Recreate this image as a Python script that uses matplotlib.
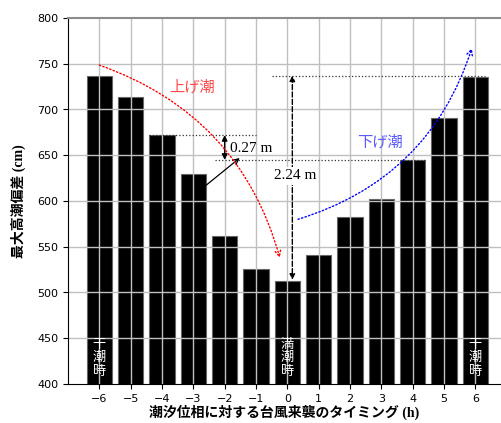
import matplotlib
matplotlib.use("Agg")
import matplotlib.pyplot as plt

# Hours relative to tidal phase and the maximum storm surge deviation (cm)
hours = [-6, -5, -4, -3, -2, -1, 0, 1, 2, 3, 4, 5, 6]
surge_cm = [737, 714, 672, 629, 562, 526, 513, 541, 583, 602, 645, 691, 735]
y_ticks = [400, 450, 500, 550, 600, 650, 700, 750, 800]

# Tide-state labels written inside bars
tide_marks = [(-6, "干\n潮\n時"), (0, "満\n潮\n時"), (6, "干\n潮\n時")]

SERIF_CJK = ["Liberation Serif", "Noto Sans CJK JP"]
CJK = ["Noto Sans CJK JP", "DejaVu Sans"]

fig = plt.figure(figsize=(5.01, 4.23), dpi=100)
ax = fig.add_axes([68 / 501, 39 / 423, 433 / 501, 366 / 423])

ax.bar(hours, surge_cm, width=0.8, color="black", edgecolor="#666666",
       linewidth=0.8, zorder=1)

ax.set_xlim(-7, 6.82)
ax.set_ylim(400, 800)
ax.set_xticks(hours)
ax.set_yticks(y_ticks)
ax.tick_params(labelsize=8, direction="out", length=3.5)

# Grid drawn over the bars
for hx in hours:
    ax.axvline(hx, color="#c0c0c0", lw=1.0, zorder=2)
for yv in y_ticks[1:-1]:
    ax.axhline(yv, color="#c0c0c0", lw=1.0, zorder=2)

ax.spines["right"].set_visible(False)
ax.spines["top"].set_color("#8c8c8c")
ax.spines["top"].set_linewidth(1.5)
ax.spines["left"].set_color("black")
ax.spines["bottom"].set_color("black")

ax.set_xlabel("潮汐位相に対する台風来襲のタイミング (h)", family=SERIF_CJK,
              fontweight="bold", fontsize=10, labelpad=1)
ax.set_ylabel("最大高潮偏差 (cm)", family=SERIF_CJK, fontweight="bold",
              fontsize=10, labelpad=8)

# Labels inside the bars
for hx, txt in tide_marks:
    ax.text(hx, 407, txt, color="white", ha="center", va="bottom",
            family=CJK, fontsize=9.5, linespacing=1.05, zorder=5)

# Reference lines for the differences
low_peak = surge_cm[hours.index(0)]
high_peak = surge_cm[hours.index(-6)]
rise_ref = surge_cm[hours.index(-4)]
fall_ref = surge_cm[hours.index(4)]

ax.plot([-4.4, -1.0], [rise_ref, rise_ref], ls=":", color="#333333", lw=0.9, zorder=4)
ax.plot([-2.3, 4.4], [fall_ref, fall_ref], ls=":", color="#333333", lw=0.9, zorder=4)
ax.plot([-0.5, 6.3], [high_peak, high_peak], ls=":", color="#333333", lw=0.9, zorder=4)

# 0.27 m difference
ax.annotate("", xy=(-2.0, fall_ref), xytext=(-2.0, rise_ref),
            arrowprops=dict(arrowstyle="<|-|>", color="black", lw=1.0,
                            mutation_scale=8, shrinkA=0, shrinkB=0), zorder=6)
ax.text(-1.84, 657.5, "0.27 m", family="Liberation Serif", fontsize=11,
        ha="left", va="center", zorder=6)
ax.annotate("", xy=(-1.52, 647), xytext=(-2.6, 617),
            arrowprops=dict(arrowstyle="->", color="black", lw=0.9,
                            shrinkA=0, shrinkB=0), zorder=6)

# 2.24 m difference
ax.annotate("", xy=(0.16, low_peak + 1), xytext=(0.16, high_peak),
            arrowprops=dict(arrowstyle="<|-|>", color="black", lw=1.0,
                            linestyle="--", mutation_scale=8,
                            shrinkA=0, shrinkB=0), zorder=6)
ax.text(0.24, 627.5, "2.24 m", family="Liberation Serif", fontsize=11,
        ha="center", va="center", zorder=7,
        bbox=dict(boxstyle="square,pad=0.15", facecolor="white", edgecolor="none"))

# Rising and falling tide curves
ax.annotate("", xy=(-0.24, 538), xytext=(-6.0, 748.5),
            arrowprops=dict(arrowstyle="->", color="red", lw=1.0, linestyle=":",
                            connectionstyle="arc3,rad=-0.26",
                            shrinkA=0, shrinkB=0), zorder=6)
ax.text(-3.04, 724, "上げ潮", color="#ff4a4a", family=CJK, fontsize=11,
        ha="center", va="center", zorder=6)

ax.annotate("", xy=(5.89, 767), xytext=(0.34, 580),
            arrowprops=dict(arrowstyle="->", color="blue", lw=1.0, linestyle=":",
                            connectionstyle="arc3,rad=0.26",
                            shrinkA=0, shrinkB=0), zorder=6)
ax.text(2.95, 664.5, "下げ潮", color="#5a5aff", family=CJK, fontsize=11,
        ha="center", va="center", zorder=6)

fig.savefig("out.png", dpi=100)
